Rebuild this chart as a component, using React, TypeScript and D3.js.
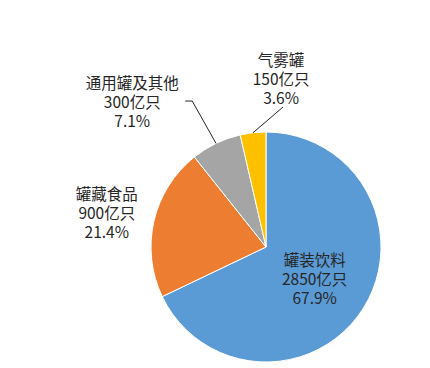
import React, { useEffect, useRef } from "react";
import * as d3 from "d3";

const categories = ["罐装饮料", "罐藏食品", "通用罐及其他", "气雾罐"];
const amounts = ["2850亿只", "900亿只", "300亿只", "150亿只"];
const shares = [67.9, 21.4, 7.1, 3.6];
const colors = ["#5B9BD5", "#ED7D31", "#A5A5A5", "#FFC000"];

const App = () => {
  const ref = useRef<SVGSVGElement | null>(null);

  useEffect(() => {
    const width = 430;
    const height = 368;
    const cx = 266;
    const cy = 247;
    const radius = 115;

    const svg = d3.select(ref.current);
    svg.selectAll("*").remove();
    svg.attr("width", width).attr("height", height);

    svg.append("rect").attr("width", width).attr("height", height).attr("fill", "#fff");

    const pie = d3.pie<number>().sort(null).value(d => d);
    const arcs = pie(shares);
    const arc = d3.arc<d3.PieArcDatum<number>>().innerRadius(0).outerRadius(radius);

    const g = svg.append("g").attr("transform", `translate(${cx},${cy})`);

    g.selectAll("path")
      .data(arcs)
      .enter()
      .append("path")
      .attr("d", arc)
      .attr("fill", (d, i) => colors[i])
      .attr("stroke", "#fff")
      .attr("stroke-width", 1);

    // where each label sits: inside slice (centroid) or outside at angle/radius
    const polar = (deg: number, r: number): [number, number] => {
      const a = (deg * Math.PI) / 180;
      return [r * Math.sin(a), -r * Math.cos(a)];
    };
    const labelPos = (d: d3.PieArcDatum<number>, i: number): [number, number] => {
      if (i === 0) return arc.centroid(d) as [number, number];
      if (i === 1) return polar(282.4, 163);
      if (i === 2) return polar(317.5, 198);
      return polar(5.1, 169.7);
    };

    const midAngle = (d: d3.PieArcDatum<number>) => (d.startAngle + d.endAngle) / 2;
    const onArc = (d: d3.PieArcDatum<number>): [number, number] => {
      const a = midAngle(d);
      return [radius * Math.sin(a), -radius * Math.cos(a)];
    };

    // leader lines for the two small slices
    const line = d3.line();
    const [gx, gy] = labelPos(arcs[2], 2);
    const p2 = onArc(arcs[2]);
    g.append("path")
      .attr("d", line([p2, [gx + 60, gy], [gx + 53, gy]]))
      .attr("fill", "none")
      .attr("stroke", "#262626")
      .attr("stroke-width", 1);

    const [yx, yy] = labelPos(arcs[3], 3);
    const p3 = onArc(arcs[3]);
    g.append("path")
      .attr("d", line([p3, [yx + 2, yy + 29]]))
      .attr("fill", "none")
      .attr("stroke", "#262626")
      .attr("stroke-width", 1);

    const labels = g.selectAll("text.lbl")
      .data(arcs)
      .enter()
      .append("text")
      .attr("class", "lbl")
      .attr("text-anchor", "middle")
      .attr("font-family", "'Noto Sans CJK SC', 'Noto Sans', sans-serif")
      .attr("font-size", 15.5)
      .attr("fill", "#262626")
      .attr("transform", (d, i) => {
        const [x, y] = labelPos(d, i);
        return `translate(${x},${y})`;
      });

    labels.each(function (d, i) {
      const t = d3.select(this);
      const rows = [categories[i], amounts[i], `${shares[i]}%`];
      rows.forEach((s, k) => {
        t.append("tspan")
          .attr("x", 0)
          .attr("y", (k - 1) * 19)
          .attr("dominant-baseline", "central")
          .text(s);
      });
    });
  }, []);

  return (
    <svg ref={ref} style={{ position: "absolute", left: 0, top: 0, display: "block" }} />
  );
};

export default App;
